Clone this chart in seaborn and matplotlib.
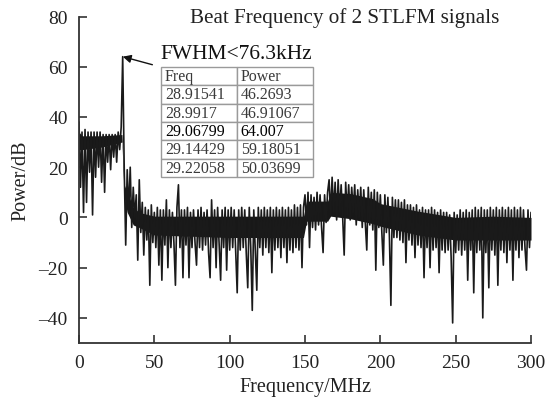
import numpy as np
import matplotlib
matplotlib.use("Agg")
import matplotlib.pyplot as plt
import seaborn as sns

# ---- data (1 MHz steps, 0..300 MHz) ----
freq_mhz = np.arange(0, 301, 1)
power_db = [
    # 0-9
    38, 12, 34, 2, 35, 6, 34, 18, 34, 1,
    # 10-19
    34, 16, 34, 20, 34, 14, 33, 10, 33, 22,
    # 20-29
    33, 19, 33, 24, 33, 22, 34, 27, 36, 64,
    # 30-39
    20, -11, 19, 2, 20, -4, 12, 0, 9, -17,
    # 40-49
    15, -6, 6, -15, 4, -9, 3, -27, 5, -10,
    # 50-59
    2, -12, 4, -19, 3, -25, 3, -11, 7, -20,
    # 60-69
    3, -12, 2, -10, -27, 4, 13, -12, 3, -24,
    # 70-79
    3, -11, 4, -24, 2, -12, 3, -10, -19, 3,
    # 80-89
    -12, 4, -13, 2, -11, 3, -14, -24, 7, -12,
    # 90-99
    3, -20, 4, -11, -25, 3, -12, 4, -21, 3,
    # 100-109
    -13, 4, -12, 3, -14, -30, 3, -13, 4, -12,
    # 110-119
    3, -14, -28, 4, -12, -37, 3, -13, -29, 4,
    # 120-129
    -12, 3, -15, 4, -12, 3, -14, 4, -22, 3,
    # 130-139
    -13, 4, -12, 3, -16, 4, -12, 3, -18, 4,
    # 140-149
    -13, 3, -14, 5, -12, 4, -13, 5, -20, 4,
    # 150-159
    9, -3, 10, -12, 9, -4, 8, -5, 10, -3,
    # 160-169
    9, -4, -14, 9, -2, 10, 15, 1, 16, 2,
    # 170-179
    14, -1, 15, 2, 13, 0, -15, 14, 1, 13,
    # 180-189
    -1, 12, 2, 13, -3, 11, 0, 12, -4, 11,
    # 190-199
    -2, -13, 12, -3, 10, -5, 11, -21, 10, -4,
    # 200-209
    9, -6, -19, 9, -6, 8, -7, -35, 8, -8,
    # 210-219
    7, -8, 7, -9, 6, -10, 7, -18, 5, -9,
    # 220-229
    5, -11, 4, -16, 5, -11, 3, -12, 4, -24,
    # 230-239
    3, -12, 3, -20, 4, -13, 3, -12, 2, -22,
    # 240-249
    3, -13, 2, -14, 2, -13, 1, -16, -42, 2,
    # 250-259
    -14, 1, -13, 3, -15, 2, -13, 3, -25, 2,
    # 260-269
    -13, 3, -30, 4, -14, 3, -13, 4, -40, 3,
    # 270-279
    -14, 3, -28, 4, -13, 3, -15, 4, -27, 3,
    # 280-289
    -13, 4, -14, 3, -18, 4, -13, 3, -25, 4,
    # 290-299
    -13, 3, -16, 4, -13, 3, -12, -21, 3, -12,
    # 300
    2,
]

# dense (solid black) core band of the noise
core_freq = [0, 2, 15, 28.5, 30, 32, 36, 40, 50, 100, 149, 151, 165, 167,
             180, 195, 200, 225, 250, 275, 300]
core_top = [34, 32.5, 32.5, 33, 13, 10, 4, 2, 0.5, 0.5, 0.5, 6.5, 6.5, 10,
            9.5, 7.5, 5.5, 2.5, 0, 0.5, 0]
core_bottom = [27, 27, 28, 30, 8, 2, -3, -4, -7, -8, -8, -1.5, -1.5, 0.5,
               -0.5, -2.5, -3.5, -7, -9, -9, -9]

x_ticks = [0, 50, 100, 150, 200, 250, 300]
y_ticks = [-40, -20, 0, 20, 40, 60, 80]

table_header = ["Freq", "Power"]
table_freq = ["28.91541", "28.9917", "29.06799", "29.14429", "29.22058"]
table_power = ["46.2693", "46.91067", "64.007", "59.18051", "50.03699"]

peak_freq = 29.07
peak_power = 64.0

title_text = "Beat Frequency of 2 STLFM signals"
fwhm_text = "FWHM<76.3kHz"

# ---- styling ----
sns.set_theme(style="ticks")
plt.rcParams["font.family"] = ["Liberation Serif", "DejaVu Serif"]
plt.rcParams["axes.unicode_minus"] = False

W, H = 554, 402
fig = plt.figure(figsize=(W / 100, H / 100), dpi=100, facecolor="white")
ax = fig.add_axes([79 / W, 1 - 344 / H, (531 - 79) / W, (344 - 17.5) / H])
ax.set_facecolor("white")

ax.fill_between(core_freq, core_bottom, core_top, color="#181818", lw=0)
sns.lineplot(x=freq_mhz, y=power_db, ax=ax, color="#1a1a1a", lw=1.2,
             estimator=None, sort=False)

ax.set_xlim(0, 300)
ax.set_ylim(-50, 80)
ax.set_xticks(x_ticks)
ax.set_yticks(y_ticks)
ax.set_xticklabels([str(t) for t in x_ticks])
ax.set_yticklabels([str(t).replace("-", "\u2013") for t in y_ticks])
for s in ["top", "right"]:
    ax.spines[s].set_visible(False)
for s in ["left", "bottom"]:
    ax.spines[s].set_color("#333333")
    ax.spines[s].set_linewidth(1.3)
ax.tick_params(direction="in", length=6, width=1.2, color="#333333",
               labelsize=14, labelcolor="#222222", pad=8)
ax.set_xlabel("Frequency/MHz", fontsize=14.5, color="#222222", labelpad=4)
ax.set_ylabel("Power/dB", fontsize=14.5, color="#222222", labelpad=6)

# title and annotation text
fig.text(190 / W, 1 - 23 / H, title_text, fontsize=15.2, color="#222222",
         ha="left", va="baseline")
fig.text(160 / W, 1 - 59 / H, fwhm_text, fontsize=15.5, color="#111111",
         ha="left", va="baseline")

# arrow to peak
ax.annotate("", xy=(peak_freq, peak_power), xytext=(48.7, 60.8),
            arrowprops=dict(arrowstyle="-|>", color="#111111", lw=1.0,
                            mutation_scale=12, shrinkA=0, shrinkB=0))

# table
rows = [[f, p] for f, p in zip(table_freq, table_power)]
tx0 = (161 - 79) / (531 - 79)
tx1 = (313 - 79) / (531 - 79)
ty0 = (344 - 178) / (344 - 17.5)
ty1 = (344 - 68) / (344 - 17.5)
tbl = ax.table(cellText=rows, colLabels=table_header, cellLoc="left",
               colLoc="left", bbox=[tx0, ty0, tx1 - tx0, ty1 - ty0],
               colWidths=[76 / 152, 76 / 152])
tbl.auto_set_font_size(False)
tbl.set_fontsize(11.5)
for (r, c), cell in tbl.get_celld().items():
    cell.set_edgecolor("#9a9a9a")
    cell.set_linewidth(1.0)
    cell.set_facecolor("white")
    cell.PAD = 0.05
    txt = cell.get_text()
    txt.set_color("#3a3a3a")
    if r == 3:
        txt.set_color("#000000")
tbl.set_zorder(5)

fig.savefig("out.png", dpi=100, facecolor="white")
